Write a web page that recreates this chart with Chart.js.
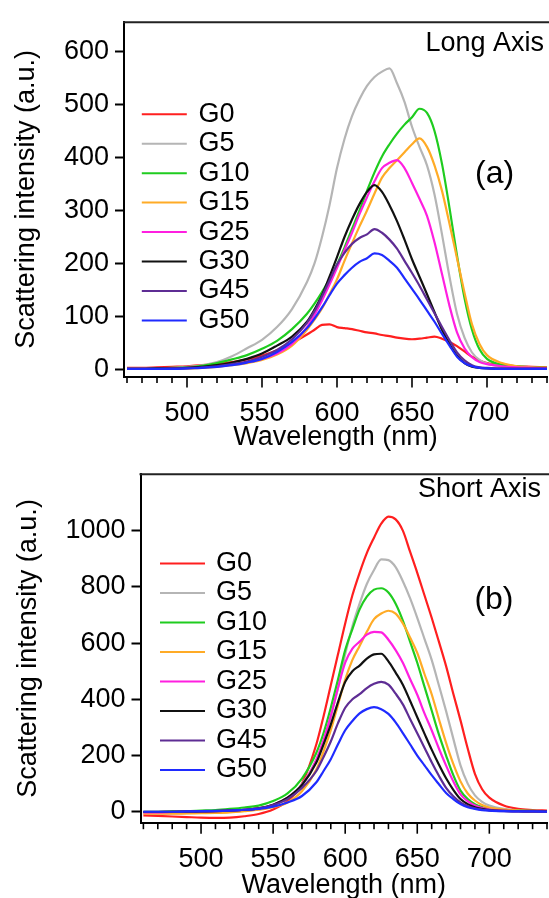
<!DOCTYPE html>
<html>
<head>
<meta charset="utf-8">
<script src="https://cdn.jsdelivr.net/npm/chart.js@4.4.1/dist/chart.umd.min.js"></script>
<style>
  html, body { margin: 0; padding: 0; background: #fff; width: 549px; height: 898px; overflow: hidden; }
  canvas { position: absolute; left: 0; }
  #longAxis { top: 0; }
  #shortAxis { top: 452px; }
</style>
</head>
<body>
<canvas id="longAxis" width="560" height="452"></canvas>
<canvas id="shortAxis" width="560" height="448"></canvas>
<script>
// wavelength grid (nm), shared by every trace
const wavelength = [460,470,480,490,500,510,520,530,540,550,560,570,
  580,585,590,595,600,605,610,615,620,625,630,635,640,645,650,655,660,665,670,675,680,685,690,695,700,
  710,720,730,740];

const seriesNames = ['G0', 'G5', 'G10', 'G15', 'G25', 'G30', 'G45', 'G50'];
const seriesColors = ['#ff1f1f', '#b5b5b5', '#1fcc1f', '#ffab26', '#ff1fe0', '#111111', '#5e2d94', '#1f2bff'];

const xTickLabels = [500, 550, 600, 650, 700];
const yTicksLong = [0, 100, 200, 300, 400, 500, 600];
const yTicksShort = [0, 200, 400, 600, 800, 1000];

// (a) long axis
const longG0 = [3,3,4,5,6,8,11,14,19,26,36,50, 66,75,84,85,80,78,76,73,70,68,65,63,60,58,57,58,60,62,58,52,44,34,24,17,12, 8,6,5,4];
const longG5 = [1,1,2,3,5,8,14,25,40,56,80,114, 165,200,250,310,380,435,478,510,535,552,562,568,540,505,458,420,385,330,255,175,105,60,32,18,11, 6,4,3,2];
const longG10 = [1,1,2,3,4,7,12,19,27,39,54,76, 105,124,146,170,198,230,265,300,337,372,402,425,445,462,476,492,484,450,388,305,215,135,75,38,20, 9,6,4,3];
const longG15 = [1,1,1,2,2,3,5,8,12,18,28,45, 75,94,115,142,170,205,238,270,300,332,362,380,395,410,425,436,420,385,337,275,210,145,85,48,27, 12,6,4,3];
const longG25 = [1,1,1,2,3,4,6,9,14,20,30,48, 80,103,130,160,192,225,258,293,325,355,380,390,395,380,352,322,290,240,180,120,70,40,23,14,10, 6,4,3,2];
const longG30 = [1,1,2,2,3,5,8,13,20,30,45,62, 90,113,140,175,212,250,283,312,335,348,335,310,280,245,208,175,142,108,75,48,26,12,5,3,2, 1,1,1,1];
const longG45 = [1,1,1,2,2,4,6,10,15,24,37,57, 88,110,138,168,198,220,237,248,255,265,258,245,228,205,182,158,132,106,80,55,32,17,8,4,3, 2,1,1,1];
const longG50 = [1,1,1,1,2,3,5,8,13,20,33,52, 78,96,117,140,162,178,192,203,210,219,216,205,192,172,152,132,111,90,67,45,24,12,6,3,2, 1,1,1,1];

// (b) short axis
const shortG0 = [-13,-15,-17,-19,-21,-22,-21,-16,-8,8,38,100, 240,340,450,560,670,770,850,920,975,1025,1050,1040,1000,925,850,770,690,605,518,420,325,225,135,80,50, 22,10,6,4];
const shortG5 = [-5,-6,-6,-5,-4,-3,0,3,8,20,48,98, 185,250,340,440,560,660,740,810,860,898,895,870,820,760,690,615,540,450,358,260,165,100,58,35,22, 10,5,3,2];
const shortG10 = [0,0,1,2,4,6,10,15,22,38,65,118, 210,280,370,470,575,650,720,765,790,795,780,740,680,605,530,445,360,275,200,130,75,45,27,17,12, 6,4,3,2];
const shortG15 = [-6,-7,-7,-6,-5,-4,-2,2,7,16,33,73, 150,215,290,380,470,540,590,640,685,705,715,705,670,620,565,490,418,330,245,170,108,65,40,24,15, 8,4,2,1];
const shortG25 = [-2,-2,-1,0,1,2,4,7,12,25,50,95, 185,255,340,440,530,580,605,630,640,638,612,575,530,472,416,350,290,225,164,108,62,38,22,13,8, 4,2,1,1];
const shortG30 = [-1,-1,0,0,1,2,4,7,12,25,50,95, 175,240,310,390,462,500,520,545,560,562,535,495,452,395,336,278,221,168,119,78,45,27,16,10,6, 3,2,1,1];
const shortG45 = [0,0,0,1,1,2,4,7,12,24,45,85, 145,195,250,315,370,400,418,440,455,462,452,420,382,330,279,228,176,128,85,55,33,20,12,8,5, 2,1,1,1];
const shortG50 = [0,0,0,1,2,3,4,7,10,18,33,56, 105,145,187,240,290,323,350,365,372,365,348,318,280,240,200,165,130,98,67,45,27,16,10,6,4, 2,1,1,0];

const FONT = "'Liberation Sans', Arial, Helvetica, sans-serif";
Chart.defaults.font.family = FONT;
Chart.defaults.font.size = 27;
Chart.defaults.color = '#000';

// frame top line, x tick marks, inline legend and panel labels
const panelDecor = {
  id: 'panelDecor',
  afterDraw(chart, args, opts) {
    const ctx = chart.ctx;
    const a = chart.chartArea;
    const x = chart.scales.x;
    ctx.save();
    ctx.strokeStyle = '#222';
    ctx.lineWidth = 2;
    ctx.beginPath();
    ctx.moveTo(a.left - 1, a.top);
    ctx.lineTo(chart.width, a.top);
    ctx.stroke();

    ctx.strokeStyle = '#000';
    ctx.lineWidth = 1.6;
    x.ticks.forEach(t => {
      const px = x.getPixelForValue(t.value);
      const len = xTickLabels.includes(t.value) ? 10 : 5.5;
      ctx.beginPath();
      ctx.moveTo(px, a.bottom);
      ctx.lineTo(px, a.bottom + 1 + len);
      ctx.stroke();
    });

    ctx.font = '27px ' + FONT;
    ctx.textBaseline = 'middle';
    ctx.textAlign = 'left';
    seriesNames.forEach((name, i) => {
      const y = a.top + opts.legendTop + i * opts.legendStep;
      const x0 = a.left + opts.legendLeft;
      ctx.strokeStyle = seriesColors[i];
      ctx.lineWidth = 2;
      ctx.beginPath();
      ctx.moveTo(x0, y);
      ctx.lineTo(x0 + 45, y);
      ctx.stroke();
      ctx.fillStyle = '#000';
      ctx.fillText(name, x0 + opts.legendText, y);
    });

    ctx.textAlign = 'right';
    ctx.fillText(opts.title, opts.titleX, opts.titleY);
    ctx.font = '32px ' + FONT;
    ctx.textAlign = 'left';
    ctx.fillText(opts.tag, opts.tagX, opts.tagY);
    ctx.restore();
  }
};

function makeChart(id, series, cfg) {
  const tickFont = { family: FONT, size: 27, lineHeight: 1.2 };
  return new Chart(document.getElementById(id).getContext('2d'), {
    type: 'line',
    data: {
      // reversed so that G0 is drawn last, on top
      datasets: series.map((vals, i) => ({
        label: seriesNames[i],
        data: wavelength.map((w, j) => ({ x: w, y: vals[j] })),
        borderColor: seriesColors[i],
        borderWidth: 2.2,
        pointRadius: 0,
        cubicInterpolationMode: 'monotone'
      })).reverse()
    },
    options: {
      responsive: false,
      animation: false,
      layout: { padding: { top: cfg.top, right: 6.4, left: 0, bottom: 0 } },
      scales: {
        x: {
          type: 'linear',
          min: 458,
          max: 740,
          grid: { display: false },
          border: { color: '#000', width: 2 },
          ticks: {
            stepSize: 10,
            includeBounds: false,
            autoSkip: false,
            maxRotation: 0,
            minRotation: 0,
            padding: 13,
            color: '#000',
            font: tickFont,
            callback: v => xTickLabels.includes(v) ? String(v) : ''
          },
          title: { display: true, text: 'Wavelength (nm)', color: '#000', font: { family: FONT, size: 27 }, padding: { top: 0, bottom: -1.5 } },
          afterFit: s => { s.height = cfg.xAxisHeight; }
        },
        y: {
          min: cfg.yMin,
          max: cfg.yMax,
          grid: { drawOnChartArea: false, tickLength: 9, tickWidth: 2, tickColor: '#000' },
          border: { color: '#000', width: 2 },
          ticks: { padding: 6, color: '#000', font: tickFont, callback: v => String(v) },
          afterBuildTicks: s => { s.ticks = cfg.yTicks.map(v => ({ value: v })); },
          title: { display: true, text: 'Scattering intensity (a.u.)', color: '#000', font: { family: FONT, size: 27 }, padding: { top: cfg.yTitlePad, bottom: 0 } },
          afterFit: s => { s.width = cfg.yAxisWidth; }
        }
      },
      plugins: {
        legend: { display: false },
        tooltip: { enabled: false },
        panelDecor: cfg.decor
      }
    },
    plugins: [panelDecor]
  });
}

const longChart = makeChart('longAxis',
  [longG0, longG5, longG10, longG15, longG25, longG30, longG45, longG50], {
  top: 14, xAxisHeight: 75.5, yAxisWidth: 124, yMin: -13.3, yMax: 655.3, yTicks: yTicksLong, yTitlePad: 10.8,
  decor: { legendTop: 92, legendStep: 29.47, legendLeft: 17.8, legendText: 56.7,
    title: 'Long Axis', titleX: 544, titleY: 44, tag: '(a)', tagX: 475, tagY: 174 }
});

const shortChart = makeChart('shortAxis',
  [shortG0, shortG5, shortG10, shortG15, shortG25, shortG30, shortG45, shortG50], {
  top: 8.7, xAxisHeight: 77.3, yAxisWidth: 140.5, yMin: -39, yMax: 1200.7, yTicks: yTicksShort, yTitlePad: 12.7,
  decor: { legendTop: 89.3, legendStep: 29.5, legendLeft: 19.5, legendText: 56,
    title: 'Short Axis', titleX: 541, titleY: 38, tag: '(b)', tagX: 474.4, tagY: 148 }
});
</script>
</body>
</html>
